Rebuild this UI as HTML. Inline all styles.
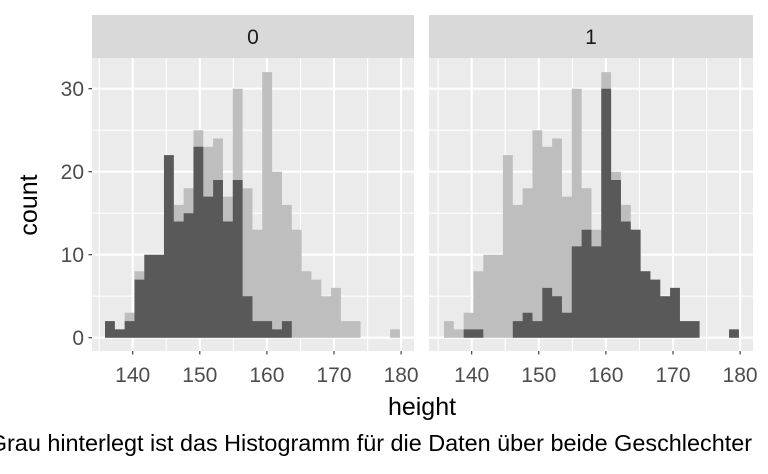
<!DOCTYPE html>
<html><head><meta charset="utf-8"><style>
html,body{margin:0;padding:0;background:#fff;overflow:hidden}
svg{display:block;font-family:"Liberation Sans",sans-serif}
</style></head><body>
<svg width="768" height="474" viewBox="0 0 768 474" xmlns="http://www.w3.org/2000/svg">
<rect width="768" height="474" fill="#ffffff"/>
<rect x="92" y="58" width="322" height="293" fill="#EBEBEB"/>
<rect x="429" y="58" width="324" height="293" fill="#EBEBEB"/>
<g stroke="#ffffff" stroke-width="1.1">
<path d="M92 296.2H414M92 213.2H414M92 130.2H414M429 296.2H753M429 213.2H753M429 130.2H753"/>
<path d="M99.2 58V351M166.2 58V351M233.3 58V351M300.5 58V351M367.6 58V351M438.1 58V351M505.2 58V351M572.3 58V351M639.5 58V351M706.6 58V351"/>
</g>
<g stroke="#ffffff" stroke-width="2.1">
<path d="M92 337.7H414M92 254.7H414M92 171.7H414M92 88.7H414M429 337.7H753M429 254.7H753M429 171.7H753M429 88.7H753"/>
<path d="M132.7 58V351M199.8 58V351M266.9 58V351M334 58V351M401.1 58V351M471.7 58V351M538.8 58V351M605.9 58V351M673 58V351M740.1 58V351"/>
</g>
<g transform="translate(105 337.7) scale(9.83 -8.3)">
<path fill="#BEBEBE" d="M0,0V2H1V1H2V3H3V8H4V10H6V22H7V16H8V18H9V25H10V23H11V24H12V17H13V30H14V18H15V13H16V32H17V20H18V16H19V13H20V8H21V7H22V5H23V6H24V2H26V0ZM29,0V1H30V0Z"/>
<path fill="#595959" d="M0,0V2H1V1H2V2H3V7H4V10H6V22H7V14H8V15H9V23H10V17H11V19H12V14H13V19H14V5H15V2H17V1H18V2H19V0Z"/>
</g>
<g transform="translate(444 337.7) scale(9.83 -8.3)">
<path fill="#BEBEBE" d="M0,0V2H1V1H2V3H3V8H4V10H6V22H7V16H8V18H9V25H10V23H11V24H12V17H13V30H14V18H15V13H16V32H17V20H18V16H19V13H20V8H21V7H22V5H23V6H24V2H26V0ZM29,0V1H30V0Z"/>
<path fill="#595959" d="M2,0V1H4V0ZM7,0V2H8V3H9V2H10V6H11V5H12V3H13V11H14V13H15V11H16V30H17V19H18V14H19V13H20V8H21V7H22V5H23V6H24V2H26V0ZM29,0V1H30V0Z"/>
</g>
<rect x="92" y="15" width="322" height="43" fill="#D9D9D9"/>
<rect x="429" y="15" width="324" height="43" fill="#D9D9D9"/>
<text x="253" y="44" font-size="21" fill="#1A1A1A" text-anchor="middle">0</text>
<text x="591" y="44" font-size="21" fill="#1A1A1A" text-anchor="middle">1</text>
<g stroke="#333333" stroke-width="1.1">
<path d="M132.7 351V354.5M199.8 351V354.5M266.9 351V354.5M334 351V354.5M401.1 351V354.5M471.7 351V354.5M538.8 351V354.5M605.9 351V354.5M673 351V354.5M740.1 351V354.5"/>
<path d="M88.5 337.7H92M88.5 254.7H92M88.5 171.7H92M88.5 88.7H92"/>
</g>
<g font-size="21" fill="#4D4D4D" text-anchor="middle">
<text x="132.7" y="382">140</text><text x="199.8" y="382">150</text><text x="266.9" y="382">160</text><text x="334" y="382">170</text><text x="401.1" y="382">180</text>
<text x="471.7" y="382">140</text><text x="538.8" y="382">150</text><text x="605.9" y="382">160</text><text x="673" y="382">170</text><text x="740.1" y="382">180</text>
</g>
<g font-size="21" fill="#4D4D4D" text-anchor="end">
<text x="84" y="345">0</text><text x="84" y="262">10</text><text x="84" y="179">20</text><text x="84" y="96">30</text>
</g>
<text x="0" y="0" font-size="25" fill="#000" text-anchor="middle" transform="translate(37 205) rotate(-90)">count</text>
<text x="422" y="415" font-size="25" fill="#000" text-anchor="middle">height</text>
<text x="752" y="451" font-size="23.4" fill="#000" text-anchor="end">Grau hinterlegt ist das Histogramm für die Daten über beide Geschlechter</text>
</svg>
</body></html>
